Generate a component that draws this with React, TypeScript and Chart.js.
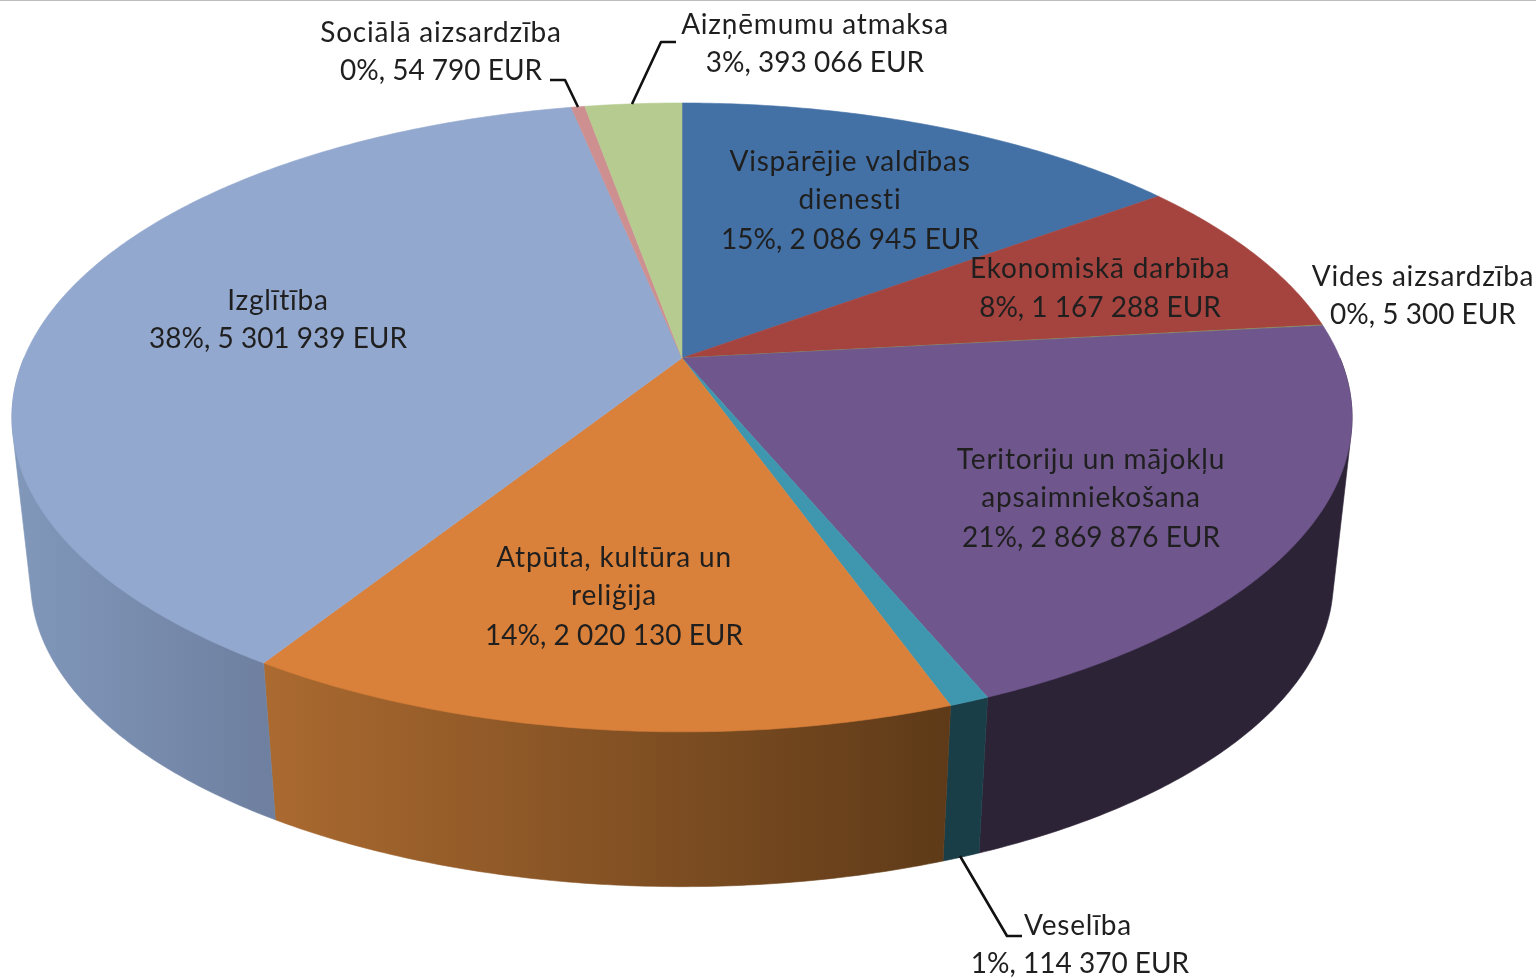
import React, { useEffect, useRef } from "react";
import { Chart, registerables } from "chart.js";

Chart.register(...registerables);

const categories = [
  "Vispārējie valdības dienesti",
  "Ekonomiskā darbība",
  "Vides aizsardzība",
  "Teritoriju un mājokļu apsaimniekošana",
  "Veselība",
  "Atpūta, kultūra un reliģija",
  "Izglītība",
  "Sociālā aizsardzība",
  "Aizņēmumu atmaksa",
];
const values = [2086945, 1167288, 5300, 2869876, 114370, 2020130, 5301939, 54790, 393066];
const labelLines = [
  ["Vispārējie valdības", "dienesti", "15%, 2 086 945 EUR"],
  ["Ekonomiskā darbība", "8%, 1 167 288 EUR"],
  ["Vides aizsardzība", "0%, 5 300 EUR"],
  ["Teritoriju un mājokļu", "apsaimniekošana", "21%, 2 869 876 EUR"],
  ["Veselība", "1%, 114 370 EUR"],
  ["Atpūta, kultūra un", "reliģija", "14%, 2 020 130 EUR"],
  ["Izglītība", "38%, 5 301 939 EUR"],
  ["Sociālā aizsardzība", "0%, 54 790 EUR"],
  ["Aizņēmumu atmaksa", "3%, 393 066 EUR"],
];
const topColors = ["#4371A6", "#A5443F", "#8BA35A", "#6F568C", "#3E97AF", "#D9803A", "#93A8CF", "#CD8F90", "#B6CB90"];
const wallFrom = ["#2f5078", "#76302d", "#63743f", "#2D2337", "#1A3E48", "#AB6A30", "#8198BB", "#936667", "#829163"];
const wallTo = ["#2f5078", "#76302d", "#63743f", "#2D2337", "#1A3E48", "#5E3A18", "#6E7F9F", "#936667", "#829163"];
const labelAnchors = [
  [850, [162, 200, 240]],
  [1100, [269, 308]],
  [1423, [277, 315]],
  [1091, [460, 498, 538]],
  [0, [926, 964]],
  [614, [558, 596, 636]],
  [278, [301, 339]],
  [441, [33, 71]],
  [815, [25, 63]],
] as [number, number[]][];
const lineCenters: Record<number, number[]> = { 4: [1078, 1080] };
const leaders = [
  [[578, 107], [565, 80], [550, 80]],
  [[632, 104], [661, 42], [676, 42]],
  [[960, 856], [1007, 936], [1022, 936]],
];

const CX = 682;
const CY = 358;
const A = 658;
const B = 303.2;
const P = 0.189;
const ELL_Y = 417.4;
const SCALE_BOTTOM = 0.972;
const BOTTOM_Y = 581;

function top(theta: number): [number, number] {
  const u = Math.cos(theta);
  const v = Math.sin(theta);
  const w = 1 - P * v;
  return [CX + (A * u) / w, CY + (B * v) / w];
}
function bottom(theta: number): [number, number] {
  const [x, y] = top(theta);
  return [CX + SCALE_BOTTOM * (x - CX), BOTTOM_Y + SCALE_BOTTOM * (y - ELL_Y)];
}
function hull(points: [number, number][]): [number, number][] {
  const pts = [...points].sort((a, b) => a[0] - b[0] || a[1] - b[1]);
  const cross = (o: number[], a: number[], b: number[]) =>
    (a[0] - o[0]) * (b[1] - o[1]) - (a[1] - o[1]) * (b[0] - o[0]);
  const build = (list: [number, number][]) => {
    const out: [number, number][] = [];
    for (const p of list) {
      while (out.length >= 2 && cross(out[out.length - 2], out[out.length - 1], p) <= 0) out.pop();
      out.push(p);
    }
    out.pop();
    return out;
  };
  return [...build(pts), ...build([...pts].reverse())];
}

const perspectivePie = {
  id: "perspectivePie",
  beforeDatasetDraw(chart: any) {
    const ctx = chart.ctx as CanvasRenderingContext2D;
    const arcs = chart.getDatasetMeta(0).data as any[];
    const sweepSteps = (a: number, b: number) => Math.max(2, Math.ceil((b - a) / 0.01));

    arcs.forEach((arc, i) => {
      const s = Math.max(arc.startAngle, 0);
      const e = Math.min(arc.endAngle, Math.PI);
      if (e <= s) return;
      const n = sweepSteps(s, e);
      const pts: [number, number][] = [];
      for (let k = 0; k <= n; k++) {
        const t = s + ((e - s) * k) / n;
        pts.push(top(t), bottom(t));
      }
      const outline = hull(pts);
      const xs = outline.map((p) => p[0]);
      const g = ctx.createLinearGradient(Math.min(...xs), 0, Math.max(...xs), 0);
      g.addColorStop(0, wallFrom[i]);
      g.addColorStop(1, wallTo[i]);
      ctx.fillStyle = g;
      ctx.strokeStyle = g;
      ctx.lineWidth = 0.6;
      ctx.beginPath();
      outline.forEach((p, k) => (k ? ctx.lineTo(p[0], p[1]) : ctx.moveTo(p[0], p[1])));
      ctx.closePath();
      ctx.fill();
      ctx.stroke();
    });

    arcs.forEach((arc, i) => {
      const n = sweepSteps(arc.startAngle, arc.endAngle);
      ctx.beginPath();
      ctx.moveTo(CX, CY);
      for (let k = 0; k <= n; k++) {
        const p = top(arc.startAngle + ((arc.endAngle - arc.startAngle) * k) / n);
        ctx.lineTo(p[0], p[1]);
      }
      ctx.closePath();
      ctx.fillStyle = topColors[i];
      ctx.strokeStyle = topColors[i];
      ctx.lineWidth = 0.6;
      ctx.fill();
      ctx.stroke();
    });
    return false;
  },
  afterDraw(chart: any) {
    const ctx = chart.ctx as CanvasRenderingContext2D;
    ctx.save();
    ctx.fillStyle = "#BDBDBD";
    ctx.fillRect(0, 0, 1536, 1);

    ctx.filter = "blur(0.5px)";
    ctx.strokeStyle = "#111111";
    ctx.lineWidth = 2.6;
    ctx.lineJoin = "round";
    leaders.forEach((path) => {
      ctx.beginPath();
      path.forEach((p, k) => (k ? ctx.lineTo(p[0], p[1]) : ctx.moveTo(p[0], p[1])));
      ctx.stroke();
    });

    ctx.fillStyle = "#1F1F1F";
    ctx.textAlign = "center";
    ctx.textBaseline = "middle";
    ctx.font = '28px Lato, "Open Sans", sans-serif';
    labelLines.forEach((lines, i) => {
      const [cx, ys] = labelAnchors[i];
      lines.forEach((line, k) => {
        const x = lineCenters[i] ? lineCenters[i][k] : cx;
        (ctx as any).letterSpacing = line.includes("EUR") ? "0px" : "0.8px";
        ctx.fillText(line, x, ys[k]);
      });
    });
    ctx.restore();
  },
};

export default function App() {
  const ref = useRef<HTMLCanvasElement>(null);
  useEffect(() => {
    document.body.style.margin = "0";
    document.body.style.background = "#ffffff";
    const chart = new Chart(ref.current!, {
      type: "pie",
      data: {
        labels: categories,
        datasets: [{ data: values, backgroundColor: topColors, borderWidth: 0 }],
      },
      options: {
        animation: false,
        responsive: false,
        plugins: { legend: { display: false }, tooltip: { enabled: false } },
      },
      plugins: [perspectivePie],
    });
    return () => chart.destroy();
  }, []);
  return <canvas ref={ref} width={1536} height={978} style={{ display: "block" }} />;
}
